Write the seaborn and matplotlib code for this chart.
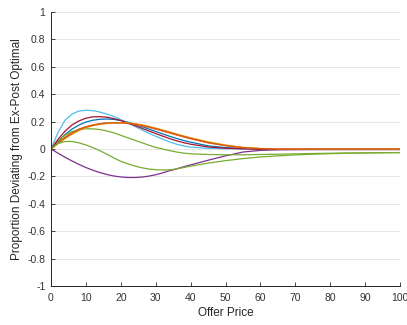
import numpy as np
import pandas as pd
import matplotlib
matplotlib.use("Agg")
import matplotlib.pyplot as plt
import seaborn as sns

# ---- data ----
x_vals = [0, 2, 4, 6, 8, 10, 12, 14, 16, 18, 20, 22, 24, 26, 28, 30, 32, 34, 36, 38, 40,
          45, 50, 55, 60, 65, 70, 75, 80, 85, 90, 95, 100]

blue = [0, 0.055, 0.105, 0.145, 0.175, 0.197, 0.21, 0.217, 0.219, 0.216, 0.208, 0.196, 0.181,
        0.164, 0.146, 0.128, 0.11, 0.093, 0.077, 0.062, 0.05,
        0.023, 0.01, 0.004, 0.001, 0, 0, 0, 0, 0, 0, 0, 0]
orange = [0, 0.045, 0.085, 0.118, 0.145, 0.163, 0.176, 0.185, 0.19, 0.192, 0.191, 0.187, 0.18,
          0.17, 0.158, 0.145, 0.131, 0.117, 0.102, 0.088, 0.075,
          0.045, 0.024, 0.009, 0.002, 0, 0, 0, 0, 0, 0, 0, 0]
yellow = [0, 0.04, 0.078, 0.11, 0.137, 0.157, 0.172, 0.181, 0.187, 0.19, 0.19, 0.187, 0.181,
          0.172, 0.161, 0.148, 0.135, 0.121, 0.106, 0.092, 0.079,
          0.05, 0.027, 0.011, 0.003, 0, 0, 0, 0, 0, 0, 0, 0]
purple = [0, -0.03, -0.06, -0.087, -0.112, -0.135, -0.155, -0.172, -0.186, -0.197, -0.204,
          -0.208, -0.208, -0.205, -0.198, -0.188, -0.174, -0.158, -0.145, -0.13, -0.116,
          -0.082, -0.05, -0.022, -0.01, -0.006, -0.004, -0.003, -0.003, -0.003, -0.003, -0.003, -0.003]
green_up = [0, 0.06, 0.1, 0.127, 0.142, 0.148, 0.147, 0.142, 0.132, 0.118, 0.1, 0.082, 0.064,
            0.046, 0.028, 0.012, 0.0, -0.012, -0.022, -0.03, -0.035,
            -0.04, -0.042, -0.042, -0.04, -0.038, -0.035, -0.033, -0.031, -0.029, -0.028, -0.027, -0.026]
cyan = [0, 0.12, 0.21, 0.255, 0.277, 0.283, 0.28, 0.27, 0.255, 0.238, 0.215, 0.19, 0.165,
        0.14, 0.115, 0.093, 0.072, 0.052, 0.035, 0.022, 0.014,
        0.005, 0.002, 0.001, 0, 0, 0, 0, 0, 0, 0, 0, 0]
red = [0, 0.07, 0.13, 0.175, 0.205, 0.225, 0.235, 0.236, 0.232, 0.222, 0.208, 0.19, 0.172,
       0.152, 0.132, 0.113, 0.094, 0.076, 0.06, 0.046, 0.035,
       0.015, 0.006, 0.001, -0.002, -0.003, -0.004, -0.004, -0.004, -0.004, -0.004, -0.004, -0.004]
orange2 = [0, 0.043, 0.082, 0.114, 0.141, 0.16, 0.174, 0.183, 0.189, 0.191, 0.191, 0.188, 0.182,
           0.173, 0.162, 0.149, 0.135, 0.121, 0.106, 0.092, 0.078,
           0.048, 0.026, 0.01, 0.003, 0, 0, 0, 0, 0, 0, 0, 0]
yellow2 = [0, 0.038, 0.075, 0.107, 0.134, 0.155, 0.17, 0.18, 0.187, 0.191, 0.192, 0.19, 0.185,
           0.177, 0.166, 0.153, 0.139, 0.125, 0.11, 0.096, 0.083,
           0.053, 0.029, 0.012, 0.004, 0.001, 0, 0, 0, 0, 0, 0, 0]
green_low = [0, 0.04, 0.055, 0.055, 0.045, 0.03, 0.01, -0.012, -0.038, -0.065, -0.09, -0.108,
             -0.124, -0.137, -0.146, -0.151, -0.153, -0.152, -0.145, -0.135, -0.125,
             -0.103, -0.085, -0.07, -0.058, -0.05, -0.043, -0.038, -0.034, -0.031, -0.029, -0.027, -0.026]

series = [
    ("s1", blue, "#0072BD"),
    ("s2", orange, "#D95319"),
    ("s3", yellow, "#EDB120"),
    ("s4", purple, "#7E2F8E"),
    ("s5", green_up, "#77AC30"),
    ("s6", cyan, "#4DBEEE"),
    ("s7", red, "#A2142F"),
    ("s8", yellow2, "#EDB120"),
    ("s9", orange2, "#D95319"),
    ("s10", green_low, "#77AC30"),
]

x_ticks = [0, 10, 20, 30, 40, 50, 60, 70, 80, 90, 100]
y_ticks = [-1, -0.8, -0.6, -0.4, -0.2, 0, 0.2, 0.4, 0.6, 0.8, 1]
y_ticklabels = ["-1", "-0.8", "-0.6", "-0.4", "-0.2", "0", "0.2", "0.4", "0.6", "0.8", "1"]

rows = []
for name, vals, _ in series:
    for xv, yv in zip(x_vals, vals):
        rows.append({"x": xv, "y": yv, "series": name})
df = pd.DataFrame(rows)
palette = {name: col for name, _, col in series}

sns.set_style("ticks")
plt.rcParams["font.family"] = ["Liberation Sans", "DejaVu Sans"]

fig = plt.figure(figsize=(4.07, 3.25), dpi=100)
ax = fig.add_axes([0.1253, 0.12, 0.8577, 0.843])

sns.lineplot(data=df, x="x", y="y", hue="series", palette=palette, ax=ax,
             linewidth=0.9, legend=False, sort=False)

ax.set_xlim(0, 100)
ax.set_ylim(-1, 1)
ax.set_xticks(x_ticks)
ax.set_xticklabels([str(t) for t in x_ticks])
ax.set_yticks(y_ticks)
ax.set_yticklabels(y_ticklabels)
ax.grid(axis="y", color="#e6e6e6", linewidth=0.7)
ax.set_axisbelow(True)
for s in ["top", "right"]:
    ax.spines[s].set_visible(False)
for s in ["left", "bottom"]:
    ax.spines[s].set_color("#262626")
    ax.spines[s].set_linewidth(0.7)
ax.tick_params(direction="in", length=3, width=0.6, colors="#262626",
               labelsize=7.5, labelcolor="#333333")
ax.tick_params(axis="x", pad=5)
ax.tick_params(axis="y", pad=4)
ax.set_xlabel("Offer Price", fontsize=8.5, color="#262626", labelpad=3)
ax.set_ylabel("Proportion Deviating from Ex-Post Optimal", fontsize=8.5, color="#262626", labelpad=3)

fig.savefig("out.png", dpi=100)
